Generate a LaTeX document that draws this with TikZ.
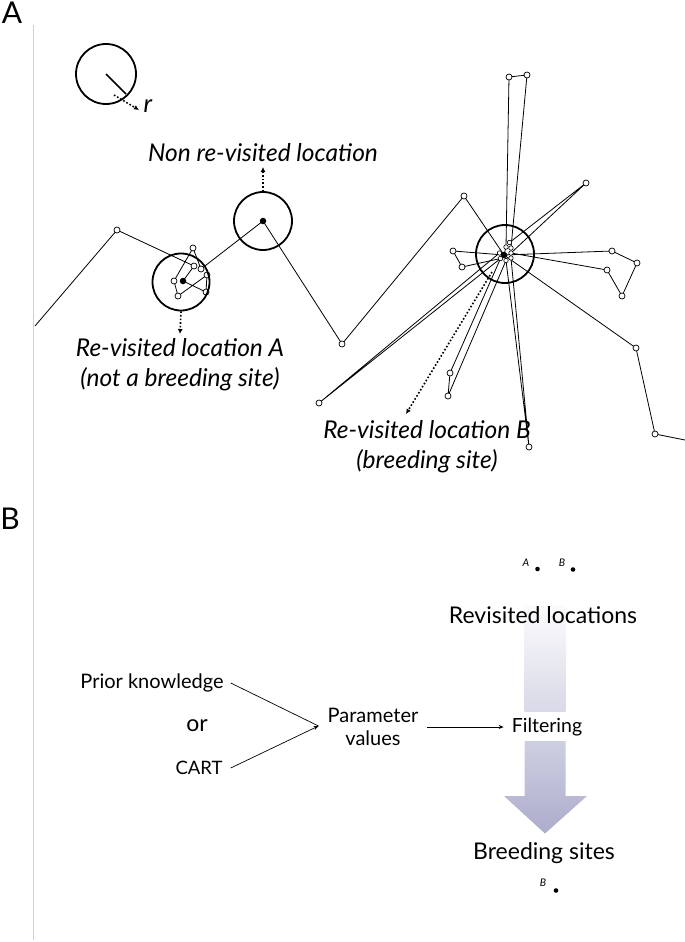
\documentclass[tikz,border=0pt]{standalone}
\usepackage{fontspec}
\setmainfont{Lato}
\usetikzlibrary{arrows.meta}
\definecolor{grayline}{RGB}{208,208,208}
\definecolor{arrowbot}{RGB}{172,172,204}
\begin{document}
\begin{tikzpicture}[x=1pt,y=-1pt,
  traj/.style={line width=0.8pt, black},
  pt/.style={circle, draw=black, fill=white, line width=0.7pt, minimum size=6pt, inner sep=0pt},
  spt/.style={circle, draw=black, fill=white, line width=0.6pt, minimum size=4.5pt, inner sep=0pt},
  bdot/.style={circle, fill=black, minimum size=6.5pt, inner sep=0pt},
  bigc/.style={circle, draw=black, line width=1.8pt, inner sep=0pt},
  dotarr/.style={line width=1.6pt, dotted, -{Latex[length=5pt,width=5pt]}},
  ilbl/.style={font=\fontsize{24.5}{30}\selectfont\itshape, align=center, inner sep=0pt},
  big/.style={font=\fontsize{30}{30}\selectfont, inner sep=0pt},
  txt/.style={inner sep=0pt, align=center},
  thinarr/.style={line width=0.7pt, -{Stealth[length=5pt,width=4pt]}},
  smallab/.style={font=\fontsize{10.5}{10.5}\selectfont\itshape, inner sep=0pt}
]
\useasboundingbox (0,0) rectangle (685,942);
% panel labels and rule
\node[big] (panA) at (12,13) {A};
\node[big] (panB) at (10,519) {B};
\draw[grayline, line width=1pt] (33.5,25) -- (33.5,940);

% legend circle
\node[bigc, minimum size=60pt] (leg) at (106,74) {};
\coordinate (legc) at (106,74);
\coordinate (legr) at (126,94);
\draw[line width=1.6pt] (legc) -- (legr);
\coordinate (rs) at (114,95);
\coordinate (rt) at (139,110);
\draw[dotarr] (rs) -- (rt);
\node[font=\fontsize{25}{25}\selectfont\itshape, inner sep=0pt] (rlab) at (148,106) {r};

% trajectory coordinates
\coordinate (p0) at (35,326);
\coordinate (p1) at (117,230);
\coordinate (a1) at (194,266);
\coordinate (cA) at (183,281);
\coordinate (a2) at (206,292);
\coordinate (a3) at (207,275);
\coordinate (a4) at (178,296);
\coordinate (a5) at (174,281);
\coordinate (a6) at (193,248);
\coordinate (a7) at (201,269);
\coordinate (cN) at (263,221);
\coordinate (p2) at (342,344);
\coordinate (p3) at (464,196);
\coordinate (cB) at (504,255);
% ring around B
\coordinate (r1) at (509.5,242.5);
\coordinate (r2) at (506,247);
\coordinate (r3) at (511,248);
\coordinate (r4) at (499.5,253);
\coordinate (r5) at (500.5,258.5);
\coordinate (r6) at (506,260.5);
\coordinate (r7) at (511,258);
\coordinate (r8) at (511,253);
% points around B
\coordinate (t1) at (509,77);
\coordinate (t2) at (527,75);
\coordinate (b1) at (529,447);
\coordinate (ne) at (586,183);
\coordinate (w1) at (453,251);
\coordinate (w2) at (462,267);
\coordinate (e1) at (612,251);
\coordinate (e2) at (637,263);
\coordinate (e3) at (622,296);
\coordinate (e4) at (607,270);
\coordinate (se1) at (636,348);
\coordinate (se2) at (655,434);
\coordinate (ex) at (685,440);
\coordinate (sw) at (319,403);
\coordinate (s1) at (450,373);
\coordinate (s2) at (448,396);

% trajectory lines
\draw[traj] (p0) -- (p1) -- (a1) -- (cA) -- (a2) -- (a3) -- (a4) -- (a5) -- (a6) -- (a7) -- (cN) -- (p2) -- (p3) -- (cB);
\draw[traj] (cB) -- (r2) -- (t1) -- (t2) -- (r3);
\draw[traj] (r6) -- (b1) -- (r7);
\draw[traj] (r1) -- (ne) -- (r8);
\draw[traj] (cB) -- (w1) -- (w2) -- (r5);
\draw[traj] (cB) -- (e1) -- (e2) -- (e3) -- (e4) -- (r8);
\draw[traj] (cB) -- (se1) -- (se2) -- (ex);
\draw[traj] (r4) -- (sw) -- (r5);
\draw[traj] (r5) -- (s1) -- (s2) -- (r6);

% open points
\foreach \q in {p1,a1,a2,a3,a4,a5,a6,a7,p2,p3,t1,t2,b1,ne,w1,w2,e1,e2,e3,e4,se1,se2,sw,s1,s2}
  \node[pt] (n\q) at (\q) {};
\foreach \q in {r1,r2,r3,r4,r5,r6,r7,r8}
  \node[spt] (n\q) at (\q) {};
% black centres
\node[bdot] (dA) at (cA) {};
\node[bdot] (dN) at (cN) {};
\node[bdot] (dB) at (cB) {};

% location circles
\node[bigc, minimum size=57pt] (circA) at (181,282) {};
\node[bigc, minimum size=58pt] (circN) at (263,221) {};
\node[bigc, minimum size=58pt] (circB) at (505,254) {};

% labels part A
\node[ilbl] (lblN) at (263,153) {Non re-visited location};
\node[ilbl] (lblA) at (180,365) {Re-visited location A\\(not a breeding site)};
\node[ilbl] (lblB) at (427,447) {Re-visited location B\\(breeding site)};
\coordinate (tipN) at (263,167);
\coordinate (tipA) at (180,334);
\coordinate (stB) at (492,272);
\coordinate (tipB) at (406,414);
\draw[dotarr] (circN.north) -- (tipN);
\draw[dotarr] (circA.south) -- (tipA);
\draw[dotarr] (stB) -- (tipB);

% part B: shaded arrow
\shade[top color=white!96!arrowbot, bottom color=arrowbot!46!white]
  (524.5,605) rectangle (565.5,711);
\shade[top color=arrowbot!58!white, bottom color=arrowbot]
  (524.5,741) -- (565.5,741) -- (565.5,796) -- (587,796) -- (545,833.5) -- (504,796) -- (524.5,796) -- cycle;

% small A B marks
\node[smallab] (sA) at (526,563) {A};
\node[smallab] (sB) at (562,563) {B};
\node[smallab] (sB2) at (543,883) {B};
\fill (537.5,569) circle (2.3);
\fill (573,569.5) circle (2.3);
\fill (556,890.5) circle (2.3);

\node[txt, font=\fontsize{23}{23}\selectfont] (revis) at (543,615) {Revisited locations};
\node[txt, font=\fontsize{19.5}{19.5}\selectfont] (filt) at (547,727) {Filtering};
\node[txt, font=\fontsize{23}{23}\selectfont] (breed) at (544,853) {Breeding sites};

\node[txt, font=\fontsize{20}{20}\selectfont] (prior) at (152,683) {Prior knowledge};
\node[txt, font=\fontsize{23}{23}\selectfont] (or) at (197,726) {or};
\node[txt, font=\fontsize{18.5}{18.5}\selectfont] (cart) at (199,768) {CART};
\node[txt, font=\fontsize{20}{23}\selectfont] (param) at (373,727) {Parameter\\values};

\coordinate (merge) at (318.5,726);
\draw[line width=0.7pt] ([xshift=7pt]prior.east) -- (merge);
\draw[thinarr] ([xshift=8pt]cart.east) -- (merge);
\draw[thinarr] ([xshift=8pt]param.east) -- ([xshift=-8pt]filt.west);
\end{tikzpicture}
\end{document}
